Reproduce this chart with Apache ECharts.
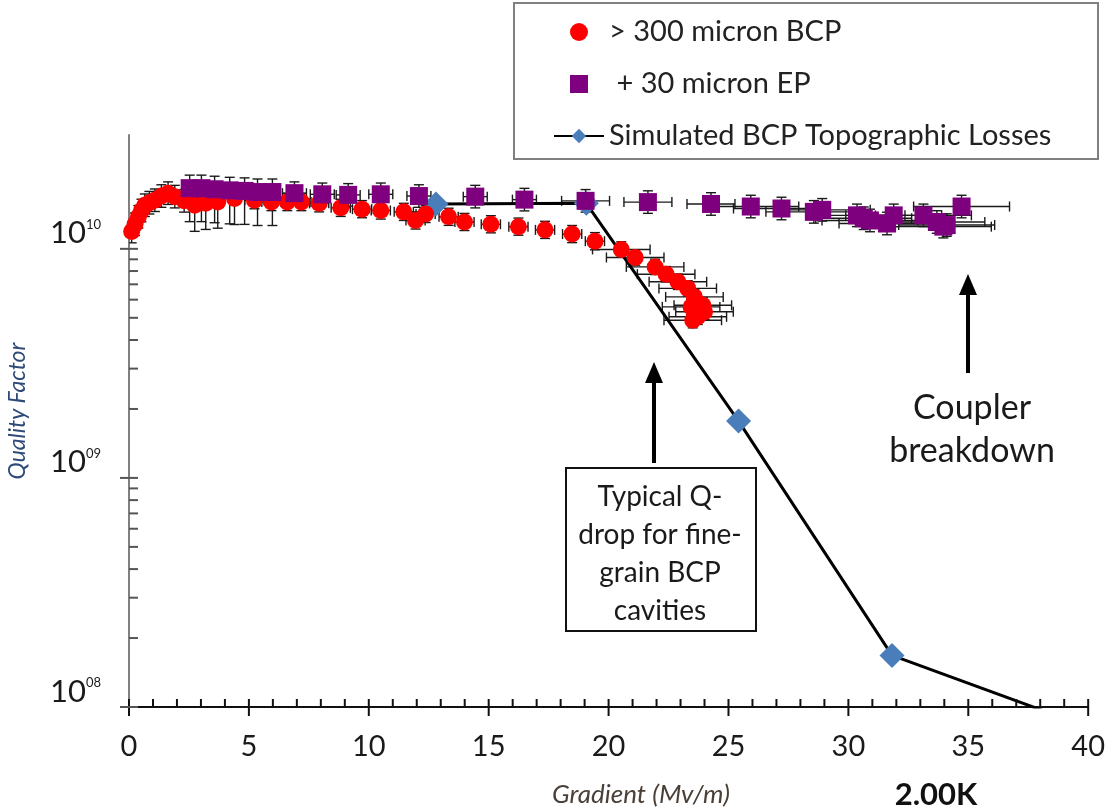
<!DOCTYPE html>
<html>
<head>
<meta charset="utf-8">
<script src="https://cdn.jsdelivr.net/npm/echarts@6/dist/echarts.min.js"></script>
<style>html,body{margin:0;padding:0;background:#fff}#c{width:1108px;height:810px}</style>
</head>
<body>
<div id="c"></div>
<script>
// ---------- DATA ----------
const redName = '> 300 micron BCP';
const purpleName = ' + 30 micron EP';
const simName = 'Simulated BCP Topographic Losses';

const redX = [0.11, 0.25, 0.39, 0.52, 0.66, 0.85, 1.08, 1.35, 1.63, 1.91, 2.30, 2.74, 3.20, 3.70, 4.40, 5.23, 5.94, 6.60, 7.19, 7.93, 8.83, 9.72, 10.50, 11.46, 11.95, 12.37, 13.33, 13.99, 15.09, 16.24, 17.35, 18.48, 19.43, 20.53, 21.11, 21.94, 22.40, 22.89, 23.30, 23.58, 23.93, 23.44, 24.00, 23.72, 23.51];
const redQ = [1.19e10, 1.28e10, 1.38e10, 1.47e10, 1.55e10, 1.59e10, 1.63e10, 1.70e10, 1.75e10, 1.69e10, 1.62e10, 1.55e10, 1.58e10, 1.60e10, 1.66e10, 1.63e10, 1.60e10, 1.60e10, 1.60e10, 1.58e10, 1.51e10, 1.49e10, 1.47e10, 1.45e10, 1.33e10, 1.42e10, 1.38e10, 1.31e10, 1.28e10, 1.25e10, 1.21e10, 1.16e10, 1.08e10, 9.94e9, 9.17e9, 8.34e9, 7.75e9, 7.18e9, 6.72e9, 6.17e9, 5.67e9, 5.58e9, 5.31e9, 5.05e9, 4.88e9];
const redErrX = [0,0,0,0,0,0,0,0,0,0,0, 0,0,0,0, 0.4,0.4,0.4,0.4,0.4,0.4,0.4,0.4,0.4,0.4,0.4,0.4,0.4,0.4,0.4,0.4,0.4,0.4, 1.2,1.2,1.2,1.2,1.2,1.2,1.2,1.2,1.2,1.2,1.2,1.2];
const redErrUp = [0.12,0.12,0.12,0.12,0.12,0.12,0.12,0.12,0.12,0.12,0.12, 0.08,0.08,0.08,0.08, 0.09,0.09,0.09,0.09,0.09,0.09,0.09,0.09,0.09,0.09,0.09,0.09,0.09,0.09,0.09,0.09,0.09,0.09, 0.08,0.08,0.08,0.08,0.08,0.08,0.08,0.08,0.08,0.08,0.08,0.08];
const redErrDown = [0.12,0.12,0.12,0.12,0.12,0.12,0.12,0.12,0.12,0.12,0.12, 0.3,0.3,0.3,0.3, 0.09,0.09,0.09,0.09,0.09,0.09,0.09,0.09,0.09,0.09,0.09,0.09,0.09,0.09,0.09,0.09,0.09,0.09, 0.08,0.08,0.08,0.08,0.08,0.08,0.08,0.08,0.08,0.08,0.08,0.08];

const purpleX = [2.53, 3.02, 3.57, 4.20, 4.82, 5.36, 5.98, 6.90, 8.06, 9.14, 10.50, 12.09, 14.44, 16.49, 19.04, 21.64, 24.27, 25.93, 27.21, 28.56, 28.91, 30.36, 30.64, 30.90, 31.61, 31.89, 33.13, 33.69, 33.96, 34.10, 34.72];
const purpleQ = [1.84e10, 1.84e10, 1.82e10, 1.80e10, 1.79e10, 1.77e10, 1.77e10, 1.75e10, 1.73e10, 1.72e10, 1.73e10, 1.70e10, 1.69e10, 1.64e10, 1.62e10, 1.60e10, 1.57e10, 1.53e10, 1.50e10, 1.45e10, 1.48e10, 1.40e10, 1.36e10, 1.33e10, 1.29e10, 1.40e10, 1.40e10, 1.31e10, 1.25e10, 1.27e10, 1.53e10];
const purpleErrX = [0,0,0,0,0,0,0, 0.5,0.5,0.5,0.5,0.5,0.5,0.5, 1.0,1.0,1.0, 2.0,2.0,2.0,2.0,2.0,2.0,2.0,2.0,2.0,2.0,2.0,2.0,2.0,2.0];
const purpleErrUp = [0.14,0.14,0.14,0.14,0.14,0.14,0.14, 0.12,0.12,0.12,0.12,0.12,0.12,0.12,0.12,0.12,0.12,0.12,0.12,0.12,0.12,0.12,0.12,0.12,0.12,0.12,0.12,0.12,0.12,0.12,0.12];
const purpleErrDown = [0.4,0.4,0.4,0.4,0.4,0.4,0.4, 0.12,0.12,0.12,0.12,0.12,0.12,0.12,0.12,0.12,0.12,0.12,0.12,0.12,0.12,0.12,0.12,0.12,0.12,0.12,0.12,0.12,0.12,0.12,0.12];

const simX = [12.8, 19.07, 25.42, 31.82, 38.17];
const simQ = [1.57e10, 1.58e10, 1.77e9, 1.68e8, 9.6e7];

const xTickValues = [0, 5, 10, 15, 20, 25, 30, 35, 40];
const yMajorTicks = [1e8, 1e9, 1e10];
const yMinorTicks = [2e8,3e8,4e8,5e8,6e8,7e8,8e8,9e8, 2e9,3e9,4e9,5e9,6e9,7e9,8e9,9e9];

// ---------- BUILD ----------
const FONT = 'Lato, "Open Sans", sans-serif';
const zip = (a, b) => a.map((v, i) => [v, b[i]]);
const errData = (xs, qs, ex, up, dn) => xs.map((v, i) => [v, qs[i], ex[i], up[i], dn[i]]);

const xMinor = [];
for (let i = xTickValues[0]; i <= xTickValues[xTickValues.length - 1]; i++) {
  if (xTickValues.indexOf(i) < 0) xMinor.push(i);
}
const xTickData = xTickValues.map(v => [v, 1e8, 1]).concat(xMinor.map(v => [v, 1e8, 0]));
const yTickData = yMajorTicks.map(v => [0, v, 1]).concat(yMinorTicks.map(v => [0, v, 0]));

function errRender(params, api) {
  const x = api.value(0), y = api.value(1), ex = api.value(2), up = api.value(3), dn = api.value(4);
  const hi = api.coord([x, y * (1 + up)]);
  const lo = api.coord([x, y / (1 + dn)]);
  const c = api.coord([x, y]);
  const st = { stroke: '#1a1a1a', lineWidth: 1.4 };
  const cap = 5;
  const ch = [
    { type: 'line', shape: { x1: c[0], y1: hi[1], x2: c[0], y2: lo[1] }, style: st },
    { type: 'line', shape: { x1: c[0] - cap, y1: hi[1], x2: c[0] + cap, y2: hi[1] }, style: st },
    { type: 'line', shape: { x1: c[0] - cap, y1: lo[1], x2: c[0] + cap, y2: lo[1] }, style: st }
  ];
  if (ex > 0) {
    const l = api.coord([x - ex, y]), r = api.coord([x + ex, y]);
    ch.push({ type: 'line', shape: { x1: l[0], y1: c[1], x2: r[0], y2: c[1] }, style: st });
    ch.push({ type: 'line', shape: { x1: l[0], y1: c[1] - cap, x2: l[0], y2: c[1] + cap }, style: st });
    ch.push({ type: 'line', shape: { x1: r[0], y1: c[1] - cap, x2: r[0], y2: c[1] + cap }, style: st });
  }
  return { type: 'group', children: ch };
}

function xTickRender(params, api) {
  const p = api.coord([api.value(0), api.value(1)]);
  const major = api.value(2) === 1;
  return { type: 'line', shape: { x1: p[0], y1: p[1] - 8, x2: p[0], y2: major ? p[1] + 9 : p[1] },
           style: { stroke: '#111', lineWidth: 2 } };
}
function yTickRender(params, api) {
  const p = api.coord([api.value(0), api.value(1)]);
  const major = api.value(2) === 1;
  return { type: 'line', shape: { x1: major ? p[0] - 9 : p[0], y1: p[1], x2: p[0] + 9, y2: p[1] },
           style: { stroke: '#555', lineWidth: 2 } };
}

const chart = echarts.init(document.getElementById('c'), null, { renderer: 'canvas' });
chart.setOption({
  backgroundColor: '#ffffff',
  animation: false,
  textStyle: { fontFamily: FONT },
  grid: { left: 129, right: 16, top: 135, bottom: 103 },
  legend: {
    orient: 'vertical',
    left: 548, top: 12,
    itemWidth: 50, itemHeight: 18, itemGap: 22,
    data: [
      { name: redName, icon: 'circle' },
      { name: purpleName, icon: 'path://M0,0L10,0L10,10L0,10Z' },
      { name: simName }
    ],
    textStyle: { fontFamily: FONT, fontSize: 29, color: '#222', lineHeight: 30 },
    z: 20
  },
  xAxis: {
    type: 'value', min: 0, max: 40, interval: 5,
    axisLine: { show: true, lineStyle: { color: '#111', width: 2 } },
    axisTick: { show: false },
    splitLine: { show: false },
    axisLabel: { fontFamily: FONT, fontSize: 29, color: '#1a1a1a', margin: 25 }
  },
  yAxis: {
    type: 'log', logBase: 10, min: 1e8, max: 3.14e10,
    axisLine: { show: true, lineStyle: { color: '#808080', width: 2 } },
    axisTick: { show: false },
    splitLine: { show: false },
    axisLabel: {
      margin: 28, align: 'right', verticalAlign: 'bottom',
      formatter: function (v) {
        const e = Math.log10(v);
        if (Math.abs(e - Math.round(e)) > 1e-6) return '';
        const s = String(Math.round(e)).padStart(2, '0');
        return '{b|10}{s|' + s + '}';
      },
      rich: {
        b: { fontFamily: FONT, fontSize: 31, color: '#1a1a1a' },
        s: { fontFamily: FONT, fontSize: 13, color: '#1a1a1a', verticalAlign: 'top', padding: [0, 0, 18, 0] }
      }
    }
  },
  graphic: [
    { type: 'rect', left: 513, top: 2, shape: { width: 584, height: 156 },
      style: { fill: '#fff', stroke: '#808080', lineWidth: 2 }, z: 10 },
    // annotation box
    { type: 'rect', left: 565, top: 467, shape: { width: 190, height: 163 },
      style: { fill: '#fff', stroke: '#111', lineWidth: 2 }, z: 10 },
    { type: 'text', x: 660, y: 478, z: 11,
      style: { text: 'Typical Q-\ndrop for fine-\ngrain BCP\ncavities', fill: '#1a1a1a',
               font: '28px ' + FONT, align: 'center', verticalAlign: 'top', lineHeight: 38 } },
    // arrow 1
    { type: 'line', shape: { x1: 654, y1: 463, x2: 654, y2: 380 }, style: { stroke: '#000', lineWidth: 4 }, z: 11 },
    { type: 'polygon', shape: { points: [[654, 362], [645, 383], [663, 383]] }, style: { fill: '#000' }, z: 11 },
    // arrow 2
    { type: 'line', shape: { x1: 968, y1: 373, x2: 968, y2: 292 }, style: { stroke: '#000', lineWidth: 4 }, z: 11 },
    { type: 'polygon', shape: { points: [[968, 274], [959, 295], [977, 295]] }, style: { fill: '#000' }, z: 11 },
    { type: 'text', x: 972, y: 387, z: 11,
      style: { text: 'Coupler\nbreakdown', fill: '#1a1a1a', font: '34px ' + FONT,
               align: 'center', verticalAlign: 'top', lineHeight: 43 } },
    // axis titles
    { type: 'text', x: 641, y: 795, z: 11,
      style: { text: 'Gradient (Mv/m)', fill: '#4a4038', font: 'italic 26px ' + FONT,
               align: 'center', verticalAlign: 'middle' } },
    { type: 'text', x: 936, y: 795, z: 11,
      style: { text: '2.00K', fill: '#111', font: 'bold 31px ' + FONT,
               align: 'center', verticalAlign: 'middle' } },
    { type: 'text', x: 18, y: 411, rotation: Math.PI / 2, z: 11,
      style: { text: 'Quality Factor', fill: '#2e4a78', font: 'italic 23px ' + FONT,
               align: 'center', verticalAlign: 'middle' } }
  ],
  series: [
    { type: 'custom', name: 'errRed', renderItem: errRender, data: errData(redX, redQ, redErrX, redErrUp, redErrDown),
      z: 1, silent: true, clip: true },
    { type: 'custom', name: 'errPurple', renderItem: errRender, data: errData(purpleX, purpleQ, purpleErrX, purpleErrUp, purpleErrDown),
      z: 1, silent: true, clip: true },
    { type: 'line', name: simName, data: zip(simX, simQ), symbol: 'diamond', symbolSize: 25,
      itemStyle: { color: '#4a7ebb' }, lineStyle: { color: '#000', width: 3 }, z: 2, clip: true },
    { type: 'scatter', name: redName, data: zip(redX, redQ), symbol: 'circle', symbolSize: 17,
      itemStyle: { color: '#ff0000', opacity: 1 }, z: 3 },
    { type: 'scatter', name: purpleName, data: zip(purpleX, purpleQ), symbol: 'rect', symbolSize: 18,
      itemStyle: { color: '#7f007f', opacity: 1 }, z: 4 },
    { type: 'custom', name: 'xTicks', renderItem: xTickRender, data: xTickData, z: 5, silent: true, clip: false },
    { type: 'custom', name: 'yTicks', renderItem: yTickRender, data: yTickData, z: 5, silent: true, clip: false }
  ]
});
</script>
</body>
</html>
